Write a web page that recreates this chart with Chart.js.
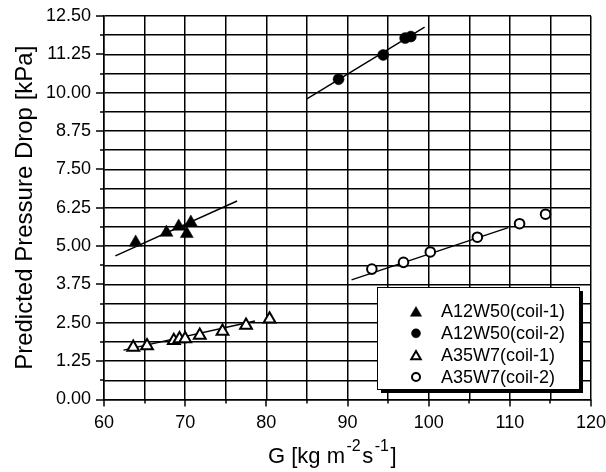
<!DOCTYPE html>
<html><head><meta charset="utf-8">
<script src="https://cdn.jsdelivr.net/npm/chart.js@4/dist/chart.umd.min.js"></script>
<style>html,body{margin:0;padding:0;background:#fff;}canvas{display:block;}</style>
</head><body>
<canvas id="c" width="606" height="472"></canvas>
<script>
// ---- data ----
const seriesNames = ['A12W50(coil-1)', 'A12W50(coil-2)', 'A35W7(coil-1)', 'A35W7(coil-2)'];

const a12c1X = [63.9, 67.7, 69.2, 70.2, 70.7];
const a12c1Y = [5.12, 5.44, 5.64, 5.40, 5.77];

const a12c2X = [88.9, 94.4, 97.1, 97.8];
const a12c2Y = [10.44, 11.23, 11.78, 11.83];

const a35c1X = [63.6, 65.3, 68.6, 69.3, 70.0, 71.8, 74.6, 77.5, 80.4];
const a35c1Y = [1.70, 1.75, 1.92, 1.98, 1.98, 2.09, 2.22, 2.42, 2.62];

const a35c2X = [93.0, 96.9, 100.2, 106.0, 111.2, 114.4];
const a35c2Y = [4.25, 4.47, 4.81, 5.29, 5.73, 6.04];

// fitted lines (end points)
const fitA12c1X = [61.4, 76.4], fitA12c1Y = [4.68, 6.47];
const fitA12c2X = [85.0, 99.5], fitA12c2Y = [9.80, 12.14];
const fitA35c1X = [62.4, 78.6], fitA35c1Y = [1.61, 2.56];
const fitA35c2X = [90.5, 109.8], fitA35c2Y = [3.90, 5.60];

const xTickLabels = ['60', '70', '80', '90', '100', '110', '120'];
const yTickLabels = ['0.00', '1.25', '2.50', '3.75', '5.00', '6.25', '7.50', '8.75', '10.00', '11.25', '12.50'];

const xTitleParts = [['G [kg m', false], ['-2', true], ['s', false], ['-1', true], [']', false]];
const yTitle = 'Predicted Pressure Drop [kPa]';

// ---- helpers ----
const pts = (xs, ys) => xs.map((x, i) => ({x: x, y: ys[i]}));
const FONT = "'Liberation Sans', Arial, sans-serif";

const markerStyles = [
  {pointStyle: 'triangle', radius: 7.5, fill: '#000', borderWidth: 0.5},
  {pointStyle: 'circle', radius: 5.5, fill: '#000', borderWidth: 0.5},
  {pointStyle: 'triangle', radius: 6.8, fill: '#fff', borderWidth: 2},
  {pointStyle: 'circle', radius: 4.8, fill: '#fff', borderWidth: 2}
];
const legendMarkers = [
  {pointStyle: 'triangle', radius: 6.5, fill: '#000', borderWidth: 0.5},
  {pointStyle: 'circle', radius: 4.5, fill: '#000', borderWidth: 0.5},
  {pointStyle: 'triangle', radius: 5.5, fill: '#fff', borderWidth: 2},
  {pointStyle: 'circle', radius: 4, fill: '#fff', borderWidth: 2}
];

function markerDataset(label, data, m) {
  return {
    label: label, data: data, showLine: false,
    pointStyle: m.pointStyle, pointRadius: m.radius, pointHoverRadius: m.radius,
    backgroundColor: m.fill, borderColor: '#000', pointBorderWidth: m.borderWidth
  };
}
function fitDataset(data) {
  return {
    label: '', data: data, showLine: true, isFit: true,
    borderColor: '#000', borderWidth: 1.4, pointRadius: 0, pointHoverRadius: 0, fill: false
  };
}

// ---- plugins ----
const tickMarks = {
  id: 'tickMarks',
  afterDraw(chart) {
    const ctx = chart.ctx, xs = chart.scales.x, ys = chart.scales.y, a = chart.chartArea;
    ctx.save();
    ctx.strokeStyle = '#000';
    ctx.lineWidth = 1.5;
    xs.ticks.forEach(t => {
      const px = Math.round(xs.getPixelForValue(t.value));
      const major = Math.abs(t.value / 10 - Math.round(t.value / 10)) < 1e-6;
      ctx.beginPath(); ctx.moveTo(px, a.bottom); ctx.lineTo(px, a.bottom + (major ? 7 : 4)); ctx.stroke();
    });
    ys.ticks.forEach(t => {
      const py = Math.round(ys.getPixelForValue(t.value));
      const major = Math.abs(t.value / 1.25 - Math.round(t.value / 1.25)) < 1e-6;
      ctx.beginPath(); ctx.moveTo(a.left, py); ctx.lineTo(a.left - (major ? 8 : 4), py); ctx.stroke();
    });
    ctx.restore();
  }
};

const boxLegend = {
  id: 'boxLegend',
  afterDraw(chart) {
    const ctx = chart.ctx;
    const bx = 377, by = 287, bw = 202, bh = 102;
    ctx.save();
    ctx.fillStyle = '#000';
    ctx.fillRect(bx + 4, by + 4, bw, bh);
    ctx.fillStyle = '#fff';
    ctx.fillRect(bx, by, bw, bh);
    ctx.strokeStyle = '#000';
    ctx.lineWidth = 1;
    ctx.strokeRect(bx + 0.5, by + 0.5, bw, bh);
    const rows = [311.5, 333.3, 355, 377];
    seriesNames.forEach((name, i) => {
      const m = legendMarkers[i];
      ctx.fillStyle = m.fill;
      ctx.strokeStyle = '#000';
      ctx.lineWidth = m.borderWidth;
      Chart.helpers.drawPoint(ctx, {pointStyle: m.pointStyle, radius: m.radius, rotation: 0, borderWidth: m.borderWidth}, 416, rows[i] + (m.pointStyle === 'triangle' ? 1.5 : 0));
      ctx.fillStyle = '#000';
      ctx.font = '18px ' + FONT;
      ctx.textBaseline = 'middle';
      ctx.textAlign = 'left';
      ctx.fillText(name, 441, rows[i] + 1);
    });
    ctx.restore();
  }
};

const xTitlePlugin = {
  id: 'xTitle',
  afterDraw(chart) {
    const ctx = chart.ctx;
    const mainFont = '22px ' + FONT, supFont = '16px ' + FONT;
    ctx.save();
    ctx.fillStyle = '#000';
    ctx.textBaseline = 'alphabetic';
    ctx.textAlign = 'left';
    let x = 268;
    const base = 463;
    xTitleParts.forEach(p => {
      ctx.font = p[1] ? supFont : mainFont;
      if (p[1]) x += 1.5;
      ctx.fillText(p[0], x, p[1] ? base - 12 : base);
      x += ctx.measureText(p[0]).width + (p[1] ? 1.5 : 0);
    });
    ctx.restore();
  }
};

// ---- chart ----
Chart.defaults.font.family = FONT;
Chart.defaults.color = '#000';

new Chart(document.getElementById('c'), {
  type: 'scatter',
  data: {
    datasets: [
      markerDataset(seriesNames[0], pts(a12c1X, a12c1Y), markerStyles[0]),
      markerDataset(seriesNames[1], pts(a12c2X, a12c2Y), markerStyles[1]),
      markerDataset(seriesNames[2], pts(a35c1X, a35c1Y), markerStyles[2]),
      markerDataset(seriesNames[3], pts(a35c2X, a35c2Y), markerStyles[3]),
      fitDataset(pts(fitA12c1X, fitA12c1Y)),
      fitDataset(pts(fitA12c2X, fitA12c2Y)),
      fitDataset(pts(fitA35c1X, fitA35c1Y)),
      fitDataset(pts(fitA35c2X, fitA35c2Y))
    ]
  },
  options: {
    responsive: false,
    animation: false,
    devicePixelRatio: 1,
    layout: {padding: {top: 16, right: 15, left: 0, bottom: 0}},
    plugins: {legend: {display: false}, tooltip: {enabled: false}},
    scales: {
      x: {
        type: 'linear', min: 60, max: 120,
        afterFit: s => { s.height = 72.5; s.paddingLeft = 0; s.paddingRight = 0; },
        ticks: {
          stepSize: 5, autoSkip: false, maxRotation: 0, padding: 13,
          font: {size: 18}, color: '#000',
          callback: v => {
            const i = (v - 60) / 10;
            return Math.abs(i - Math.round(i)) < 1e-6 ? xTickLabels[Math.round(i)] : '';
          }
        },
        grid: {color: '#000', lineWidth: 1.5, drawTicks: false},
        border: {display: true, color: '#000', width: 1.5},
        title: {display: false}
      },
      y: {
        type: 'linear', min: 0, max: 12.5,
        afterFit: s => { s.width = 104; s.paddingTop = 0; s.paddingBottom = 0; },
        ticks: {
          stepSize: 0.625, autoSkip: false, padding: 13,
          font: {size: 18}, color: '#000',
          callback: v => {
            const i = v / 1.25;
            return Math.abs(i - Math.round(i)) < 1e-6 ? yTickLabels[Math.round(i)] : '';
          }
        },
        grid: {color: '#000', lineWidth: 1.5, drawTicks: false},
        border: {display: true, color: '#000', width: 1.5},
        title: {display: true, text: yTitle, color: '#000', font: {size: 24}, padding: {top: 11, bottom: 0}}
      }
    }
  },
  plugins: [tickMarks, boxLegend, xTitlePlugin]
});
</script>
</body></html>
